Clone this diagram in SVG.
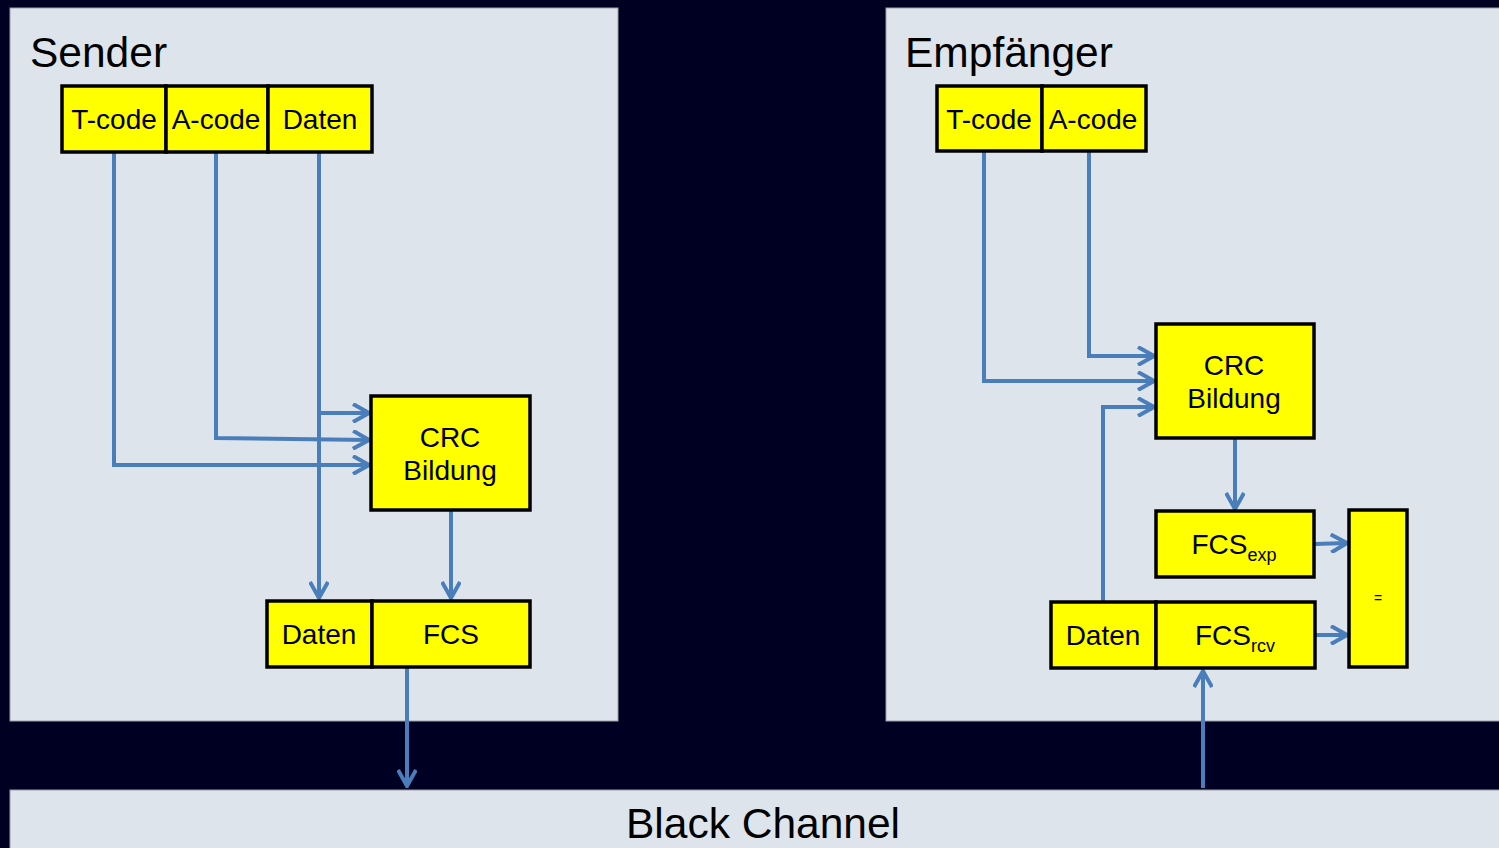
<svg xmlns="http://www.w3.org/2000/svg" width="1499" height="848" viewBox="0 0 1499 848">
<defs>
<style>
.panel{fill:#dee4eb;stroke:#9aa0a8;stroke-width:1}
.box{fill:#ffff00;stroke:#000;stroke-width:3.5}
.t{font-family:"Liberation Sans",Arial,sans-serif;fill:#000;text-anchor:middle}
.lbl{font-size:28px}
.title{font-size:42.5px;text-anchor:start}
.c{fill:none;stroke:#4a7ebb;stroke-width:4}
</style>
<marker id="ah" viewBox="0 0 20 20" refX="18" refY="10" markerWidth="20" markerHeight="20" markerUnits="userSpaceOnUse" orient="auto">
<path d="M2,1 L18,10 L2,19" fill="none" stroke="#4a7ebb" stroke-width="4"/>
</marker>
</defs>
<rect width="1499" height="848" fill="#000022"/>
<g id="sender">
<rect class="panel" x="10" y="8" width="608" height="713"/>
<text class="t title" x="30" y="67">Sender</text>
</g>
<g id="empfaenger">
<rect class="panel" x="886" y="8" width="620" height="713"/>
<text class="t title" x="905" y="67">Empfänger</text>
</g>
<g id="blackchannel">
<rect class="panel" x="10" y="790" width="1500" height="70"/>
<text class="t" style="font-size:42.5px" x="763" y="838">Black Channel</text>
</g>
<g id="connectors">
<polyline class="c" points="114,153 114,465 369,465" marker-end="url(#ah)"/>
<polyline class="c" points="216,153 216,438 369,440" marker-end="url(#ah)"/>
<polyline class="c" points="319,153 319,598" marker-end="url(#ah)"/>
<polyline class="c" points="319,413 369,413" marker-end="url(#ah)"/>
<polyline class="c" points="451,511 451,598" marker-end="url(#ah)"/>
<polyline class="c" points="407,668 407,786" marker-end="url(#ah)"/>
<polyline class="c" points="984,152 984,381 1154,381" marker-end="url(#ah)"/>
<polyline class="c" points="1089,152 1089,356 1154,356" marker-end="url(#ah)"/>
<polyline class="c" points="1103,601 1103,407 1154,407" marker-end="url(#ah)"/>
<polyline class="c" points="1235,439 1235,509" marker-end="url(#ah)"/>
<polyline class="c" points="1315,544 1347,543" marker-end="url(#ah)"/>
<polyline class="c" points="1316,635 1347,635" marker-end="url(#ah)"/>
<polyline class="c" points="1203,788 1203,671" marker-end="url(#ah)"/>
</g>
<g id="s-tcode"><rect class="box" x="62" y="86" width="104" height="66"/><text class="t lbl" x="114" y="129">T-code</text></g>
<g id="s-acode"><rect class="box" x="166" y="86" width="102" height="66"/><text class="t lbl" x="216" y="129">A-code</text></g>
<g id="s-daten"><rect class="box" x="268" y="86" width="104" height="66"/><text class="t lbl" x="320" y="129">Daten</text></g>
<g id="s-crc"><rect class="box" x="371" y="396" width="159" height="114"/><text class="t lbl" x="450" y="447">CRC</text><text class="t lbl" x="450" y="480">Bildung</text></g>
<g id="s-daten2"><rect class="box" x="267" y="601" width="105" height="66"/><text class="t lbl" x="319" y="644">Daten</text></g>
<g id="s-fcs"><rect class="box" x="372" y="601" width="158" height="66"/><text class="t lbl" x="451" y="644">FCS</text></g>
<g id="e-tcode"><rect class="box" x="937" y="86" width="105" height="65"/><text class="t lbl" x="989" y="129">T-code</text></g>
<g id="e-acode"><rect class="box" x="1042" y="86" width="104" height="65"/><text class="t lbl" x="1093" y="129">A-code</text></g>
<g id="e-crc"><rect class="box" x="1156" y="324" width="158" height="114"/><text class="t lbl" x="1234" y="375">CRC</text><text class="t lbl" x="1234" y="408">Bildung</text></g>
<g id="e-fcsexp"><rect class="box" x="1156" y="511" width="158" height="66"/><text class="t lbl" x="1234" y="554">FCS<tspan style="font-size:18px" dy="7">exp</tspan></text></g>
<g id="e-daten"><rect class="box" x="1051" y="602" width="105" height="66"/><text class="t lbl" x="1103" y="645">Daten</text></g>
<g id="e-fcsrcv"><rect class="box" x="1156" y="602" width="159" height="66"/><text class="t lbl" x="1235" y="645">FCS<tspan style="font-size:18px" dy="7">rcv</tspan></text></g>
<g id="e-eq"><rect class="box" x="1349" y="510" width="58" height="157"/><text class="t" style="font-size:14px" x="1378" y="603">=</text></g>
</svg>
